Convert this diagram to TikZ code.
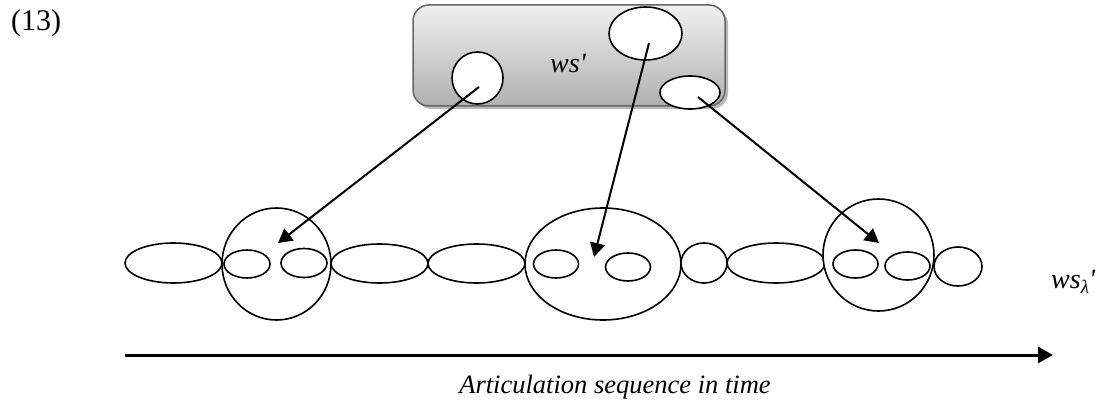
\documentclass[tikz,border=0pt]{standalone}
\usepackage{fontspec}
\setmainfont{Liberation Serif}
\usetikzlibrary{arrows.meta,shapes.geometric,shadows}
\tikzset{
  blob/.style={ellipse, draw=black, line width=1.6pt, fill=white, inner sep=0pt},
  pointer/.style={line width=2pt, -{Triangle[length=14pt,width=15pt]}},
  timeline/.style={line width=3pt, -{Triangle[length=15pt,width=16pt]}},
  lbl/.style={inner sep=0pt, font=\fontsize{28}{30}\selectfont\itshape}
}
\newcommand{\bl}[4]{\node[blob, minimum width=#3pt, minimum height=#4pt] (#1) at #2 {};}
\begin{document}
\begin{tikzpicture}[x=1pt,y=-1pt]
\useasboundingbox (0,0) rectangle (1102,401);

% equation number
\node[inner sep=0pt, font=\fontsize{30}{32}\selectfont] (num) at (36,23) {(13)};

% the word-shape container
\node[draw=gray!80!black, line width=1.5pt, rounded corners=16pt,
      minimum width=312pt, minimum height=101pt,
      top color=gray!12, middle color=gray!22, bottom color=gray!62,
      drop shadow={shadow xshift=3pt, shadow yshift=-3pt, fill=gray!70, opacity=0.8}]
      (box) at (569,55.5) {};
\node[lbl] (ws) at (568,63) {ws\textquotesingle};
\bl{bl}{(477.5,78)}{51}{52}
\bl{bt}{(645.5,33.5)}{73}{53}
\bl{br}{(690,92.5)}{60}{33}

% articulation row
\bl{eA}{(173.5,263)}{97}{40}
\bl{Ca}{(276.5,264)}{109}{112}
\bl{ca1}{(247,264)}{46}{28}
\bl{ca2}{(304,263)}{46}{29}
\bl{eB}{(379.5,263.5)}{97}{39}
\bl{eC}{(476.5,263.5)}{97}{39}
\bl{Cb}{(603,264)}{156}{112}
\bl{cb1}{(556,264)}{45}{28}
\bl{cb2}{(628,267)}{45}{28}
\bl{eD}{(704,263)}{46}{40}
\bl{eE}{(776,263)}{98}{40}
\bl{Cc}{(878.5,255)}{111}{112}
\bl{cc1}{(855.5,264)}{45}{28}
\bl{cc2}{(907.5,266)}{45}{28}
\bl{eF}{(958,266.5)}{48}{39}

\node[lbl, anchor=base west] (wsl) at (1051,288)
  {ws{\fontsize{19}{19}\selectfont\raisebox{-5pt}{λ}}\textquotesingle};

% mapping arrows
\coordinate (p1s) at (479,87);   \coordinate (p1e) at (278,243);
\coordinate (p2s) at (649,43);   \coordinate (p2e) at (594,257);
\coordinate (p3s) at (698,97);   \coordinate (p3e) at (879,243);
\draw[pointer] (p1s) -- (p1e);
\draw[pointer] (p2s) -- (p2e);
\draw[pointer] (p3s) -- (p3e);

% time axis
\coordinate (t0) at (125,355);
\coordinate (t1) at (1053,355);
\draw[timeline] (t0) -- (t1);
\node[inner sep=0pt, anchor=base, font=\fontsize{26.5}{28}\selectfont\itshape]
  (axis) at (615,393) {Articulation sequence in time};
\end{tikzpicture}
\end{document}
